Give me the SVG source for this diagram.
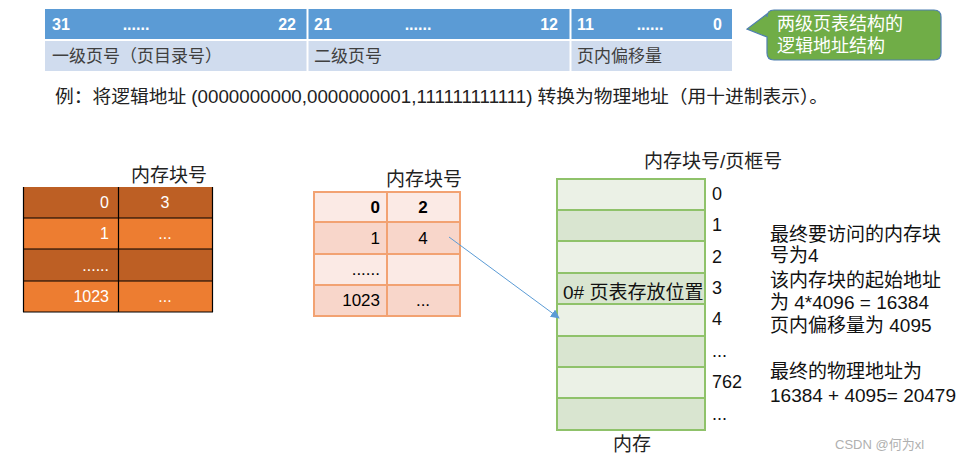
<svg xmlns="http://www.w3.org/2000/svg" width="968" height="460" viewBox="0 0 968 460">
<style>
text{font-family:"Liberation Sans","Noto Sans CJK SC",sans-serif;}
.hd{fill:#ffffff;font-weight:bold;font-size:16px;}
.r2{fill:#404040;font-size:17px;}
.t{fill:#222;font-size:18px;}
.w{fill:#ffffff;font-size:16px;}
.b{fill:#000;font-size:17px;}
.m{fill:#111;font-size:18px;}
.rt{fill:#111;font-size:19px;}
</style>
<defs>
<marker id="ah" viewBox="0 0 10 10" refX="9" refY="5" markerWidth="9" markerHeight="9" markerUnits="userSpaceOnUse" orient="auto">
<path d="M0,0 L10,5 L0,10 z" fill="#5b9bd5"/>
</marker>
</defs>
<rect width="968" height="460" fill="#ffffff"/>

<g id="addr-format">
<rect x="45" y="9" width="687" height="30" fill="#5b9bd5"/>
<rect x="45" y="41" width="687" height="30" fill="#d0dcee"/>
<line x1="307.5" y1="9" x2="307.5" y2="71" stroke="#ffffff" stroke-width="2"/>
<line x1="570.5" y1="9" x2="570.5" y2="71" stroke="#ffffff" stroke-width="2"/>
<text class="hd" x="52" y="30">31</text>
<text class="hd" x="136" y="30" text-anchor="middle">......</text>
<text class="hd" x="296" y="30" text-anchor="end">22</text>
<text class="hd" x="314" y="30">21</text>
<text class="hd" x="418" y="30" text-anchor="middle">......</text>
<text class="hd" x="558" y="30" text-anchor="end">12</text>
<text class="hd" x="577" y="30">11</text>
<text class="hd" x="650" y="30" text-anchor="middle">......</text>
<text class="hd" x="722" y="30" text-anchor="end">0</text>
<text class="r2" x="52" y="62">一级页号（页目录号）</text>
<text class="r2" x="314" y="62">二级页号</text>
<text class="r2" x="577" y="62">页内偏移量</text>
</g>

<g id="bubble">
<path d="M774,10 H934 Q941,10 941,17 V53 Q941,60 934,60 H774 Q767,60 767,53 V37 L747,29 L767,14 V17 Q767,10 774,10 Z" fill="#70ad47" stroke="#4f7fb0" stroke-width="1.2"/>
<text x="777" y="30" fill="#ffffff" font-size="18">两级页表结构的</text>
<text x="777" y="52" fill="#ffffff" font-size="18">逻辑地址结构</text>
</g>

<g id="example">
<text class="t" x="55" y="103" font-size="17" textLength="773" lengthAdjust="spacingAndGlyphs">例：将逻辑地址 (0000000000,0000000001,111111111111) 转换为物理地址（用十进制表示）。</text>
</g>

<g id="page-directory">
<text x="131" y="182" fill="#222" font-size="19">内存块号</text>
<rect x="23" y="187" width="190" height="31" fill="#bd5f24"/>
<rect x="23" y="218" width="190" height="31" fill="#ed7d31"/>
<rect x="23" y="249" width="190" height="32" fill="#bd5f24"/>
<rect x="23" y="281" width="190" height="31" fill="#ed7d31"/>
<g stroke="#000" stroke-width="1.2">
<line x1="23" y1="218" x2="213" y2="218"/>
<line x1="23" y1="249" x2="213" y2="249"/>
<line x1="23" y1="281" x2="213" y2="281"/>
<line x1="23" y1="312" x2="213" y2="312"/>
<line x1="118.5" y1="187" x2="118.5" y2="312"/>
<line x1="23.5" y1="187" x2="23.5" y2="312"/>
<line x1="212.5" y1="187" x2="212.5" y2="312"/>
</g>
<text class="w" x="109" y="208" text-anchor="end">0</text>
<text class="w" x="165" y="208" text-anchor="middle">3</text>
<text class="w" x="109" y="239" text-anchor="end">1</text>
<text class="w" x="165" y="239" text-anchor="middle">...</text>
<text class="w" x="109" y="271" text-anchor="end">......</text>
<text class="w" x="109" y="302" text-anchor="end">1023</text>
<text class="w" x="165" y="302" text-anchor="middle">...</text>
</g>

<g id="page-table">
<text x="386" y="186" fill="#222" font-size="19">内存块号</text>
<rect x="314" y="192" width="146" height="30" fill="#fbeae5"/>
<rect x="314" y="222" width="146" height="32" fill="#f8d6ca"/>
<rect x="314" y="254" width="146" height="31" fill="#fbeae5"/>
<rect x="314" y="285" width="146" height="31" fill="#f8d6ca"/>
<g stroke="#f2a272" stroke-width="2" fill="none">
<rect x="314" y="192" width="146" height="124"/>
<line x1="314" y1="222" x2="460" y2="222"/>
<line x1="314" y1="254" x2="460" y2="254"/>
<line x1="314" y1="285" x2="460" y2="285"/>
<line x1="387" y1="192" x2="387" y2="316"/>
</g>
<text class="b" x="380" y="213" text-anchor="end" font-weight="bold">0</text>
<text class="b" x="423" y="213" text-anchor="middle" font-weight="bold">2</text>
<text class="b" x="380" y="244" text-anchor="end">1</text>
<text class="b" x="423" y="244" text-anchor="middle">4</text>
<text class="b" x="380" y="275" text-anchor="end">......</text>
<text class="b" x="380" y="306" text-anchor="end">1023</text>
<text class="b" x="423" y="306" text-anchor="middle">...</text>
</g>

<g id="memory">
<text x="644" y="168" fill="#222" font-size="19">内存块号/页框号</text>
<rect x="557" y="179" width="148" height="31" fill="#ebf1e6"/>
<rect x="557" y="210" width="148" height="31" fill="#d9e5d0"/>
<rect x="557" y="241" width="148" height="32" fill="#ebf1e6"/>
<rect x="557" y="273" width="148" height="31" fill="#d9e5d0"/>
<rect x="557" y="304" width="148" height="32" fill="#ebf1e6"/>
<rect x="557" y="336" width="148" height="31" fill="#d9e5d0"/>
<rect x="557" y="367" width="148" height="31" fill="#ebf1e6"/>
<rect x="557" y="398" width="148" height="32" fill="#d9e5d0"/>
<g stroke="#8fc26a" stroke-width="2" fill="none">
<rect x="557" y="179" width="148" height="251"/>
<line x1="557" y1="210" x2="705" y2="210"/>
<line x1="557" y1="241" x2="705" y2="241"/>
<line x1="557" y1="273" x2="705" y2="273"/>
<line x1="557" y1="304" x2="705" y2="304"/>
<line x1="557" y1="336" x2="705" y2="336"/>
<line x1="557" y1="367" x2="705" y2="367"/>
<line x1="557" y1="398" x2="705" y2="398"/>
</g>
<text x="563" y="299" fill="#111" font-size="19">0# 页表存放位置</text>
<text class="m" x="712" y="200">0</text>
<text class="m" x="712" y="231">1</text>
<text class="m" x="712" y="263">2</text>
<text class="m" x="712" y="294">3</text>
<text class="m" x="712" y="325">4</text>
<text class="m" x="712" y="357">...</text>
<text class="m" x="712" y="388">762</text>
<text class="m" x="712" y="420">...</text>
<text x="613" y="451" fill="#222" font-size="19">内存</text>
</g>

<g id="explain">
<text class="rt" x="770" y="241">最终要访问的内存块</text>
<text class="rt" x="770" y="262">号为4</text>
<text class="rt" x="770" y="287">该内存块的起始地址</text>
<text class="rt" x="770" y="309">为 4*4096 = 16384</text>
<text class="rt" x="770" y="332">页内偏移量为 4095</text>
<text class="rt" x="770" y="378">最终的物理地址为</text>
<text class="rt" x="770" y="402">16384 + 4095= 20479</text>
</g>

<g id="connectors">
<line x1="449" y1="237" x2="559" y2="318" stroke="#5b9bd5" stroke-width="1" marker-end="url(#ah)"/>
</g>

<text x="835" y="449" fill="#b0b0b0" font-size="13">CSDN @何为xl</text>
</svg>
